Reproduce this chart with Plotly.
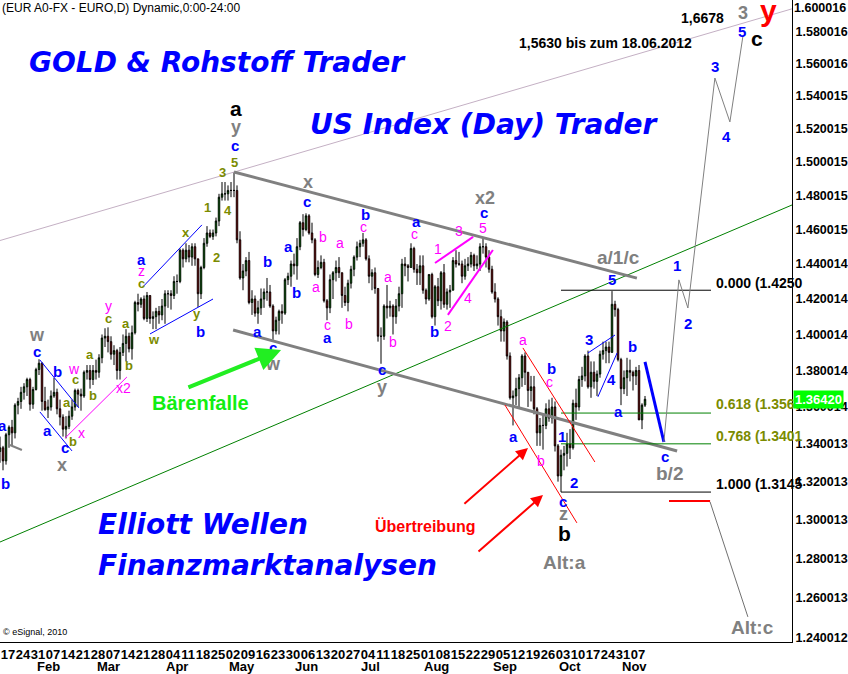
import math
import numpy as np
import pandas as pd
import plotly.graph_objects as go

# ---------------- data: EUR/USD daily candles (2011) ----------------
dates = pd.bdate_range("2011-01-12", "2011-11-11")

opens = [1.2980, 1.3070, 1.3360,
 1.3380, 1.3310, 1.3450, 1.3490, 1.3460,
 1.3610, 1.3630, 1.3680, 1.3710, 1.3750,
 1.3615, 1.3695, 1.3805, 1.3840, 1.3630,
 1.3585, 1.3600, 1.3660, 1.3680, 1.3590,
 1.3545, 1.3480, 1.3495, 1.3550, 1.3600,
 1.3690, 1.3670, 1.3660, 1.3790, 1.3800,
 1.3750, 1.3800, 1.3790, 1.3870, 1.3980,
 1.3990, 1.3960, 1.3890, 1.3910, 1.3800,
 1.3900, 1.3950, 1.3990, 1.3920, 1.4010,
 1.4180, 1.4170, 1.4200, 1.4090, 1.4220,
 1.4090, 1.4100, 1.4130, 1.4110, 1.4160,
 1.4230, 1.4230, 1.4220, 1.4300, 1.4300,
 1.4480, 1.4430, 1.4480, 1.4440, 1.4500,
 1.4430, 1.4230, 1.4380, 1.4520, 1.4580,
 1.4560, 1.4580, 1.4650, 1.4790, 1.4810,
 1.4810, 1.4830, 1.4830, 1.4830, 1.4540,
 1.4320, 1.4360, 1.4420, 1.4180, 1.4200,
 1.4120, 1.4150, 1.4200, 1.4240, 1.4240,
 1.4160, 1.4020, 1.4080, 1.4130, 1.4120,
 1.4310, 1.4330, 1.4400, 1.4390, 1.4500,
 1.4640, 1.4600, 1.4680, 1.4580, 1.4540,
 1.4340, 1.4380, 1.4410, 1.4190, 1.4150,
 1.4310, 1.4350, 1.4380, 1.4350, 1.4220,
 1.4180, 1.4290, 1.4370, 1.4440, 1.4500,
 1.4520, 1.4540, 1.4430, 1.4330, 1.4350,
 1.4260, 1.3990, 1.3990, 1.4160, 1.4150,
 1.4160, 1.4100, 1.4160, 1.4230, 1.4400,
 1.4390, 1.4380, 1.4490, 1.4370, 1.4350,
 1.4390, 1.4250, 1.4200, 1.4340, 1.4100,
 1.4270, 1.4190, 1.4350, 1.4170, 1.4240,
 1.4250, 1.4420, 1.4400, 1.4400, 1.4330,
 1.4390, 1.4400, 1.4450, 1.4390, 1.4400,
 1.4500, 1.4500, 1.4440, 1.4370, 1.4240,
 1.4200, 1.4100, 1.4020, 1.4070, 1.3880,
 1.3650, 1.3660, 1.3700, 1.3760, 1.3880,
 1.3790, 1.3690, 1.3710, 1.3590, 1.3460,
 1.3500, 1.3500, 1.3590, 1.3540, 1.3600,
 1.3390, 1.3230, 1.3340, 1.3350, 1.3400,
 1.3380, 1.3620, 1.3600, 1.3750, 1.3770,
 1.3880, 1.3710, 1.3790, 1.3740, 1.3780,
 1.3890, 1.3910, 1.3930, 1.3900, 1.4170,
 1.4140, 1.3860, 1.3700, 1.3760, 1.3800,
 1.3790, 1.3770, 1.3800, 1.3530, 1.3610]

highs = [1.3080, 1.3380, 1.3440,
 1.3390, 1.3460, 1.3500, 1.3530, 1.3620,
 1.3650, 1.3710, 1.3730, 1.3760, 1.3760,
 1.3710, 1.3815, 1.3862, 1.3845, 1.3710,
 1.3640, 1.3690, 1.3760, 1.3700, 1.3640,
 1.3560, 1.3550, 1.3580, 1.3640, 1.3700,
 1.3700, 1.3700, 1.3800, 1.3830, 1.3830,
 1.3830, 1.3860, 1.3890, 1.4000, 1.4035,
 1.4040, 1.3990, 1.3940, 1.3920, 1.3930,
 1.4000, 1.4030, 1.4010, 1.4050, 1.4190,
 1.4230, 1.4210, 1.4220, 1.4240, 1.4220,
 1.4130, 1.4150, 1.4160, 1.4200, 1.4250,
 1.4250, 1.4250, 1.4330, 1.4340, 1.4490,
 1.4490, 1.4520, 1.4510, 1.4520, 1.4520,
 1.4430, 1.4390, 1.4550, 1.4620, 1.4600,
 1.4600, 1.4670, 1.4810, 1.4880, 1.4880,
 1.4860, 1.4880, 1.4940, 1.4860, 1.4590,
 1.4400, 1.4440, 1.4470, 1.4250, 1.4220,
 1.4190, 1.4260, 1.4260, 1.4320, 1.4280,
 1.4170, 1.4100, 1.4140, 1.4170, 1.4320,
 1.4350, 1.4420, 1.4460, 1.4550, 1.4650,
 1.4690, 1.4695, 1.4690, 1.4640, 1.4550,
 1.4420, 1.4450, 1.4430, 1.4200, 1.4340,
 1.4360, 1.4420, 1.4440, 1.4350, 1.4270,
 1.4310, 1.4390, 1.4450, 1.4530, 1.4540,
 1.4580, 1.4550, 1.4450, 1.4370, 1.4380,
 1.4260, 1.4040, 1.4170, 1.4280, 1.4190,
 1.4170, 1.4200, 1.4270, 1.4430, 1.4440,
 1.4400, 1.4520, 1.4500, 1.4400, 1.4450,
 1.4450, 1.4260, 1.4340, 1.4350, 1.4280,
 1.4320, 1.4360, 1.4400, 1.4260, 1.4280,
 1.4440, 1.4480, 1.4470, 1.4420, 1.4430,
 1.4440, 1.4470, 1.4460, 1.4450, 1.4520,
 1.4550, 1.4520, 1.4480, 1.4390, 1.4290,
 1.4210, 1.4140, 1.4090, 1.4080, 1.3900,
 1.3690, 1.3760, 1.3780, 1.3890, 1.3900,
 1.3790, 1.3770, 1.3770, 1.3600, 1.3540,
 1.3560, 1.3620, 1.3640, 1.3650, 1.3630,
 1.3400, 1.3370, 1.3390, 1.3460, 1.3480,
 1.3640, 1.3700, 1.3770, 1.3820, 1.3890,
 1.3910, 1.3850, 1.3850, 1.3800, 1.3910,
 1.3960, 1.3960, 1.3960, 1.4245, 1.4190,
 1.4150, 1.3870, 1.3800, 1.3870, 1.3860,
 1.3800, 1.3820, 1.3830, 1.3620, 1.3660]

lows = [1.2960, 1.3010, 1.3300,
 1.3260, 1.3290, 1.3380, 1.3390, 1.3430,
 1.3560, 1.3590, 1.3640, 1.3660, 1.3580,
 1.3590, 1.3690, 1.3775, 1.3580, 1.3580,
 1.3540, 1.3580, 1.3650, 1.3560, 1.3500,
 1.3440, 1.3430, 1.3480, 1.3530, 1.3580,
 1.3600, 1.3580, 1.3650, 1.3750, 1.3700,
 1.3720, 1.3750, 1.3760, 1.3840, 1.3930,
 1.3900, 1.3860, 1.3830, 1.3750, 1.3750,
 1.3880, 1.3850, 1.3900, 1.3860, 1.4000,
 1.4130, 1.4150, 1.4080, 1.4070, 1.4060,
 1.4030, 1.4030, 1.4060, 1.4080, 1.4060,
 1.4150, 1.4140, 1.4200, 1.4230, 1.4290,
 1.4380, 1.4410, 1.4410, 1.4390, 1.4390,
 1.4155, 1.4200, 1.4370, 1.4500, 1.4550,
 1.4540, 1.4560, 1.4620, 1.4770, 1.4770,
 1.4770, 1.4790, 1.4790, 1.4520, 1.4310,
 1.4250, 1.4330, 1.4170, 1.4110, 1.4100,
 1.4060, 1.4110, 1.4150, 1.4190, 1.4150,
 1.3970, 1.4000, 1.4000, 1.4060, 1.4110,
 1.4280, 1.4270, 1.4340, 1.4310, 1.4480,
 1.4560, 1.4590, 1.4570, 1.4520, 1.4330,
 1.4320, 1.4370, 1.4180, 1.4080, 1.4120,
 1.4200, 1.4300, 1.4320, 1.4150, 1.4160,
 1.4130, 1.4260, 1.4330, 1.4420, 1.4440,
 1.4500, 1.4420, 1.4290, 1.4250, 1.4230,
 1.3960, 1.3837, 1.3970, 1.4090, 1.4100,
 1.4000, 1.4060, 1.4130, 1.4150, 1.4330,
 1.4300, 1.4380, 1.4350, 1.4280, 1.4280,
 1.4230, 1.4170, 1.4190, 1.4090, 1.4050,
 1.4160, 1.4140, 1.4150, 1.4140, 1.4150,
 1.4250, 1.4380, 1.4390, 1.4290, 1.4310,
 1.4360, 1.4380, 1.4360, 1.4370, 1.4360,
 1.4460, 1.4380, 1.4350, 1.4230, 1.4180,
 1.4050, 1.3960, 1.3960, 1.3860, 1.3640,
 1.3500, 1.3610, 1.3590, 1.3710, 1.3720,
 1.3600, 1.3630, 1.3560, 1.3390, 1.3390,
 1.3370, 1.3480, 1.3520, 1.3510, 1.3360,
 1.3200, 1.3145, 1.3260, 1.3280, 1.3320,
 1.3370, 1.3530, 1.3580, 1.3710, 1.3740,
 1.3700, 1.3650, 1.3700, 1.3660, 1.3760,
 1.3860, 1.3840, 1.3840, 1.3900, 1.4100,
 1.3850, 1.3610, 1.3670, 1.3660, 1.3740,
 1.3690, 1.3720, 1.3530, 1.3480, 1.3600]

closes = [1.3070, 1.3360, 1.3380,
 1.3310, 1.3450, 1.3490, 1.3460, 1.3610,
 1.3630, 1.3680, 1.3710, 1.3750, 1.3615,
 1.3695, 1.3805, 1.3840, 1.3630, 1.3585,
 1.3600, 1.3660, 1.3680, 1.3590, 1.3545,
 1.3480, 1.3495, 1.3550, 1.3600, 1.3690,
 1.3670, 1.3660, 1.3790, 1.3800, 1.3750,
 1.3800, 1.3790, 1.3870, 1.3980, 1.3990,
 1.3960, 1.3890, 1.3910, 1.3800, 1.3900,
 1.3950, 1.3990, 1.3920, 1.4010, 1.4180,
 1.4170, 1.4200, 1.4090, 1.4220, 1.4090,
 1.4100, 1.4130, 1.4110, 1.4160, 1.4230,
 1.4230, 1.4220, 1.4300, 1.4300, 1.4480,
 1.4430, 1.4480, 1.4440, 1.4500, 1.4430,
 1.4230, 1.4380, 1.4520, 1.4580, 1.4560,
 1.4580, 1.4650, 1.4790, 1.4810, 1.4810,
 1.4830, 1.4830, 1.4830, 1.4540, 1.4320,
 1.4360, 1.4420, 1.4180, 1.4200, 1.4120,
 1.4150, 1.4200, 1.4240, 1.4240, 1.4160,
 1.4020, 1.4080, 1.4130, 1.4120, 1.4310,
 1.4330, 1.4400, 1.4390, 1.4500, 1.4640,
 1.4600, 1.4680, 1.4580, 1.4540, 1.4340,
 1.4380, 1.4410, 1.4190, 1.4150, 1.4310,
 1.4350, 1.4380, 1.4350, 1.4220, 1.4180,
 1.4290, 1.4370, 1.4440, 1.4500, 1.4520,
 1.4540, 1.4430, 1.4330, 1.4350, 1.4260,
 1.3990, 1.3990, 1.4160, 1.4150, 1.4160,
 1.4100, 1.4160, 1.4230, 1.4400, 1.4390,
 1.4380, 1.4490, 1.4370, 1.4350, 1.4390,
 1.4250, 1.4200, 1.4340, 1.4100, 1.4270,
 1.4190, 1.4350, 1.4170, 1.4240, 1.4250,
 1.4420, 1.4400, 1.4400, 1.4330, 1.4390,
 1.4400, 1.4450, 1.4390, 1.4400, 1.4500,
 1.4500, 1.4440, 1.4370, 1.4240, 1.4200,
 1.4100, 1.4020, 1.4070, 1.3880, 1.3650,
 1.3660, 1.3700, 1.3760, 1.3880, 1.3790,
 1.3690, 1.3710, 1.3590, 1.3460, 1.3500,
 1.3500, 1.3590, 1.3540, 1.3600, 1.3390,
 1.3230, 1.3340, 1.3350, 1.3400, 1.3380,
 1.3620, 1.3600, 1.3750, 1.3770, 1.3880,
 1.3710, 1.3790, 1.3740, 1.3780, 1.3890,
 1.3910, 1.3930, 1.3900, 1.4170, 1.4140,
 1.3860, 1.3700, 1.3760, 1.3800, 1.3790,
 1.3770, 1.3800, 1.3530, 1.3610, 1.3642]

assert len(dates) == len(opens) == len(highs) == len(lows) == len(closes)

last_price = 1.36420
y_tick_values = [1.240012, 1.260013, 1.280013, 1.300013, 1.320013, 1.340013,
                 1.360014, 1.380014, 1.400014, 1.420014, 1.440014, 1.460015,
                 1.480015, 1.500015, 1.520015, 1.540015, 1.560016, 1.580016]
y_top_label = "1.600016"
month_names = ["Feb", "Mar", "Apr", "May", "Jun", "Jul", "Aug", "Sep", "Oct", "Nov"]

# Fibonacci retracement levels (label, price)
fib_levels = [("0.000 (1.4250", 1.4250, "black"), ("0.618 (1.3567", 1.3567, "green"),
              ("0.768 (1.3401", 1.3401, "green"), ("1.000 (1.3145", 1.3145, "black")]

# bar index: trading days counted from Mon 17 Jan 2011
origin = np.datetime64("2011-01-17")
xi = np.array([np.busday_count(origin, np.datetime64(d.date())) if d >= pd.Timestamp(origin)
               else -np.busday_count(np.datetime64(d.date()), origin) for d in dates])

# projection into the future (bar index, price)
proj_x = [220.3, 225.3, 228.3, 237.3, 242.3, 246.7]
proj_y = [1.3411, 1.4309, 1.4149, 1.5512, 1.5242, 1.5781]

# ---------------- figure ----------------
fig = go.Figure()
fig.add_trace(go.Candlestick(
    x=xi, open=opens, high=highs, low=lows, close=closes,
    increasing=dict(line=dict(color="black", width=1), fillcolor="#00d000"),
    decreasing=dict(line=dict(color="black", width=1), fillcolor="#ff0000"),
    whiskerwidth=0, hoverinfo="skip", showlegend=False))

def seg(x, y, color, width=1, dash=None):
    fig.add_trace(go.Scatter(x=x, y=y, mode="lines", hoverinfo="skip", showlegend=False,
                             line=dict(color=color, width=width, dash=dash)))

# trend / channel lines
seg([-1, 263], [1.4536, 1.5947], "#c4b0c4", 1)
seg([-1, 263], [1.2885, 1.4744], "#008000", 1)
seg([77, 211.3], [1.4940, 1.4319], "#808080", 3)
seg([76.7, 224.7], [1.4025, 1.3363], "#808080", 3)
seg([2.3, 6.3], [1.3395, 1.3368], "#808080", 2)
# fib lines
for lab, lvl, col in fib_levels:
    seg([186, 236], [lvl, lvl], "#000000" if col == "black" else "#008000", 1)
seg([222, 235.7], [1.3098, 1.3098], "#ff0000", 2)
seg([235.7, 248.3], [1.3093, 1.2505], "#707070", 1)
# wave channels
seg([12.3, 25.3], [1.3858, 1.3595], "#0000ff", 1)
seg([12.3, 23], [1.3573, 1.3363], "#0000ff", 1)
seg([46.3, 66.3], [1.4263, 1.4627], "#0000ff", 1)
seg([49, 70], [1.4003, 1.4200], "#0000ff", 1)
seg([195, 204], [1.3897, 1.3997], "#0000ff", 1)
seg([198.3, 204.7], [1.3655, 1.3897], "#0000ff", 1)
seg([20.7, 41.3], [1.3432, 1.3764], "#ff00ff", 1)
seg([144, 156.7], [1.4406, 1.4557], "#ff00ff", 2)
seg([148.3, 163.3], [1.4110, 1.4481], "#ff00ff", 2)
seg([173.3, 197.3], [1.3925, 1.3304], "#ff0000", 1)
seg([167.3, 191.3], [1.3611, 1.2984], "#ff0000", 1)
# projection
seg([214, 220.3], [1.3847, 1.3411], "#0000ff", 3)
seg(proj_x, proj_y, "#808080", 1)

lg = math.log10
ann = []
FONT = "Liberation Sans, Arial, sans-serif"

def txt(x, y, s, color, size, bold=True, xanchor="center", italic=False, family=FONT):
    t = s
    if bold:
        t = "<b>" + t + "</b>"
    if italic:
        t = "<i>" + t + "</i>"
    ann.append(dict(x=x, y=lg(y), xref="x", yref="y", text=t, showarrow=False,
                    xanchor=xanchor, yanchor="middle",
                    font=dict(color=color, size=size, family=family)))

styles = {"B": ("#0000ff", 15, True), "O": ("#7b8b00", 13, True), "M": ("#ff00ff", 14, False),
          "G": ("#808080", 18, True), "K": ("#000000", 21, True)}

wave_labels = [
    (-0.3, 1.3497, "a", "B"), (0.7, 1.3192, "b", "B"), (11.3, 1.3903, "c", "B"),
    (18, 1.3792, "b", "B"), (14.7, 1.3475, "a", "B"), (20.7, 1.3384, "c", "B"),
    (46.3, 1.4429, "a", "B"), (65.7, 1.4014, "b", "B"), (77.3, 1.5096, "c", "B"),
    (101.3, 1.4762, "c", "B"), (88.3, 1.4412, "b", "B"), (95.3, 1.4499, "a", "B"),
    (97.7, 1.4235, "b", "B"), (84.7, 1.4014, "a", "B"), (90, 1.3925, "c", "B"),
    (120.7, 1.4686, "b", "B"), (108.3, 1.3981, "a", "B"), (126.3, 1.3803, "c", "B"),
    (137.7, 1.4645, "a", "B"), (143.7, 1.4014, "b", "B"), (160.3, 1.4697, "c", "B"),
    (170.3, 1.3443, "a", "B"), (182.7, 1.3809, "b", "B"), (186.3, 1.3443, "1", "B"),
    (190.3, 1.3198, "2", "B"), (186.7, 1.3097, "c", "B"), (195.3, 1.3970, "3", "B"),
    (202.7, 1.3753, "4", "B"), (203, 1.4309, "5", "B"), (209.7, 1.3931, "b", "B"),
    (205.3, 1.3573, "a", "B"), (220.7, 1.3331, "c", "B"), (224.7, 1.4394, "1", "B"),
    (228.3, 1.4059, "2", "B"), (237.3, 1.5586, "3", "B"), (241.3, 1.5156, "4", "B"),
    (246.3, 1.5806, "5", "B"),
    (24.3, 1.3753, "c", "O"), (21.3, 1.3622, "a", "O"), (30, 1.3665, "b", "O"),
    (29, 1.3886, "a", "O"), (23.3, 1.3416, "b", "O"), (41, 1.4064, "a", "O"),
    (42, 1.3825, "b", "O"), (35, 1.4087, "c", "O"), (46, 1.4291, "c", "O"),
    (50.3, 1.3970, "w", "O"), (61, 1.4581, "x", "O"), (64.7, 1.4116, "y", "O"),
    (68, 1.4727, "1", "O"), (71, 1.4435, "2", "O"), (73.3, 1.4934, "3", "O"),
    (75, 1.4709, "4", "O"), (77, 1.4999, "5", "O"),
    (23.7, 1.3809, "w", "M"), (26.3, 1.3459, "x", "M"), (40.3, 1.3704, "x2", "M"),
    (35, 1.4161, "y", "M"), (46.3, 1.4360, "z", "M"), (106.7, 1.4557, "b", "M"),
    (112.3, 1.4522, "a", "M"), (104.3, 1.4269, "a", "M"), (120, 1.4615, "c", "M"),
    (108.3, 1.4053, "c", "M"), (115.3, 1.4059, "b", "M"), (128.3, 1.4325, "a", "M"),
    (130, 1.3959, "b", "M"), (137.3, 1.4575, "c", "M"), (145, 1.4487, "1", "M"),
    (152, 1.4592, "3", "M"), (160, 1.4610, "5", "M"), (155, 1.4206, "4", "M"),
    (148.3, 1.4048, "2", "M"), (173.3, 1.3970, "a", "M"), (182, 1.3737, "c", "M"),
    (179.3, 1.3309, "b", "M"),
    (11.3, 1.3997, "w", "G"), (19.7, 1.3288, "x", "G"), (77.7, 1.5211, "y", "G"),
    (101.7, 1.4880, "x", "G"), (90, 1.3836, "w", "G"), (126.3, 1.3710, "y", "G"),
    (160.7, 1.4786, "x2", "G"), (186.7, 1.3029, "z", "G"), (246.7, 1.5920, "3", "G"),
    (77.7, 1.5327, "a", "K"), (187.3, 1.2931, "b", "K"), (251.3, 1.5762, "c", "K"),
]
for x, y, s, st in wave_labels:
    c, sz, b = styles[st]
    txt(x, y, s, c, sz, b)

txt(255, 1.5939, "y", "#ff0000", 30, True)
txt(205.3, 1.4435, "a/1/c", "#808080", 19, True)
txt(222, 1.3245, "b/2", "#808080", 19, True)
txt(187, 1.2782, "Alt:a", "#808080", 19, True)
txt(249.7, 1.2454, "Alt:c", "#808080", 19, True)
txt(233, 1.5888, "1,6678", "#000000", 14, True)
txt(200.7, 1.5731, "1,5630 bis zum 18.06.2012", "#000000", 14, True)
txt(65.7, 1.3622, "Bärenfalle", "#11ee11", 20, True)
txt(140.7, 1.2968, "Übertreibung", "#ff0000", 16, True)

# Fib labels
fib_label_y = [1.4291, 1.3616, 1.3443, 1.3187]
for (lab, lvl, col), yy in zip(fib_levels, fib_label_y):
    txt(237, yy, lab, "#000000" if col == "black" else "#7b8b00", 14, True, xanchor="left")

# big blue headlines
BIG = "DejaVu Sans, sans-serif"
txt(8, 1.5611, "GOLD & Rohstoff Trader", "#0000ff", 28, True, "left", True, BIG)
txt(101.7, 1.5229, "US Index (Day) Trader", "#0000ff", 28, True, "left", True, BIG)
txt(31, 1.2978, "Elliott Wellen", "#0000ff", 28, True, "left", True, BIG)
txt(31, 1.2767, "Finanzmarktanalysen", "#0000ff", 28, True, "left", True, BIG)

# arrows
def arrow(x0, y0, x1, y1, color, width):
    ann.append(dict(x=x1, y=lg(y1), ax=x0, ay=lg(y0), xref="x", yref="y", axref="x", ayref="y",
                    text="", showarrow=True, arrowhead=2, arrowsize=1.2, arrowwidth=width,
                    arrowcolor=color))

arrow(61.3, 1.3704, 92.7, 1.3914, "#22ee22", 4)
arrow(153.3, 1.3077, 175, 1.3379, "#ff0000", 2)
arrow(158, 1.2829, 180, 1.3130, "#ff0000", 2)

# header / footer / price box
ann.append(dict(x=0, y=1, xref="paper", yref="paper", xanchor="left", yanchor="top", showarrow=False,
                text="(EUR A0-FX - EURO,D) Dynamic,0:00-24:00", yshift=1,
                font=dict(size=12, color="#000000", family=FONT)))
ann.append(dict(x=0, y=0, xref="paper", yref="paper", xanchor="left", yanchor="bottom", showarrow=False,
                text="© eSignal, 2010", xshift=1, yshift=3,
                font=dict(size=9, color="#000000", family=FONT)))
ann.append(dict(x=1, y=lg(last_price), xref="paper", yref="y", xanchor="left", yanchor="middle",
                showarrow=False, text="<b>1.36420</b>", bgcolor="#00ff00", borderpad=1, xshift=1,
                font=dict(size=13, color="#ffffff", family=FONT)))
ann.append(dict(x=1, y=1, xref="paper", yref="paper", xanchor="left", yanchor="top",
                showarrow=False, text="<b>" + y_top_label + "</b>", xshift=0, yshift=1,
                font=dict(size=12.5, color="#000000", family=FONT)))

# month labels (left aligned at first trading day of each month)
for m, name in zip(range(2, 12), month_names):
    first = int(np.where(dates.month == m)[0][0])
    ann.append(dict(x=float(xi[first]) - 0.4, y=-0.0374, xref="x", yref="paper", xanchor="left",
                    yanchor="middle", showarrow=False, text="<b>" + name + "</b>",
                    font=dict(size=13, color="#000000", family=FONT)))

mondays = [int(xi[k]) for k, d in enumerate(dates) if d.weekday() == 0 and xi[k] >= 0]
monday_text = [dates[k].strftime("%d") for k, d in enumerate(dates) if d.weekday() == 0 and xi[k] >= 0]

fig.update_layout(
    width=848, height=674, margin=dict(l=0, r=56, t=0, b=32),
    paper_bgcolor="white", plot_bgcolor="white", showlegend=False, hovermode=False,
    annotations=ann,
    xaxis=dict(range=[-1, 263], showgrid=False, zeroline=False, showline=True, linecolor="black",
               linewidth=1, ticks="", tickvals=mondays, ticktext=monday_text, tickangle=0,
               tickfont=dict(size=13, color="black", family=FONT, weight="bold"),
               ticklabelshift=5, ticklabelstandoff=0, rangeslider=dict(visible=False),
               fixedrange=True, automargin=False),
    yaxis=dict(type="log", range=[lg(1.23801), lg(1.60035)], side="right", showgrid=False,
               zeroline=False, showline=True, linecolor="black", linewidth=1, ticks="",
               tickvals=y_tick_values, ticktext=["%.6f" % v for v in y_tick_values],
               tickfont=dict(size=12.5, color="black", family=FONT, weight="bold"),
               fixedrange=True, automargin=False),
)

fig.write_html("out.html", config={"displayModeBar": False},
               post_script="document.body.style.margin='0px';document.body.style.overflow='hidden';")
